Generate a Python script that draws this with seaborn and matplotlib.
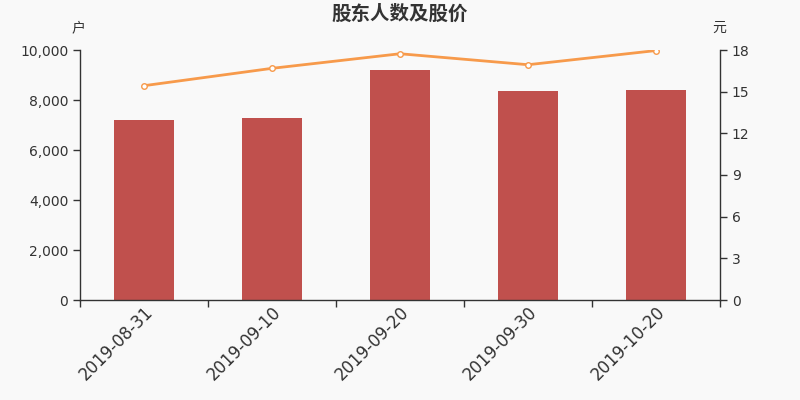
import matplotlib
matplotlib.use("Agg")
import matplotlib.pyplot as plt
import seaborn as sns
import pandas as pd
from matplotlib.ticker import FuncFormatter, FixedLocator

dates = ["2019-08-31", "2019-09-10", "2019-09-20", "2019-09-30", "2019-10-20"]
holders = [7200, 7280, 9200, 8360, 8390]
prices = [15.43, 16.68, 17.73, 16.94, 17.96]

df = pd.DataFrame({"date": dates, "holders": holders, "price": prices})

sns.set_theme(style="white")
plt.rcParams['font.family'] = ['DejaVu Sans']
bg = "#f9f9f9"
fig = plt.figure(figsize=(8, 4), dpi=100, facecolor=bg)
ax = fig.add_axes([0.1, 0.25, 0.8, 0.625])
ax.set_facecolor(bg)

sns.barplot(data=df, x="date", y="holders", color="#c0504d", saturation=1,
            width=0.47, linewidth=0, ax=ax)
ax.set_ylim(0, 10000)
ax.set_xlim(-0.5, 4.5)
ax.yaxis.set_major_locator(FixedLocator([0, 2000, 4000, 6000, 8000, 10000]))
ax.yaxis.set_major_formatter(FuncFormatter(lambda v, p: f"{int(v):,}"))
ax.set_xlabel("")
ax.set_ylabel("")

ax2 = ax.twinx()
sns.lineplot(data=df, x="date", y="price", color="#f79a4b", linewidth=2,
             marker="o", markersize=4, markerfacecolor="white",
             markeredgecolor="#f79a4b", markeredgewidth=1, ax=ax2)
ax2.set_ylim(0, 18)
ax2.set_xlim(-0.5, 4.5)
ax2.yaxis.set_major_locator(FixedLocator([0, 3, 6, 9, 12, 15, 18]))
ax2.set_xlabel("")
ax2.set_ylabel("")

dark = "#333333"
for a in (ax, ax2):
    a.spines["top"].set_visible(False)
    for s in ["left", "right", "bottom"]:
        a.spines[s].set_color(dark)
        a.spines[s].set_linewidth(1)
ax.spines["right"].set_visible(False)
ax2.spines["left"].set_visible(False)
ax2.spines["bottom"].set_visible(False)

ax.tick_params(axis="y", direction="out", length=5, color=dark, labelcolor=dark,
               labelsize=10, left=True, width=1)
ax2.tick_params(axis="y", direction="out", length=5, color=dark, labelcolor=dark,
                labelsize=10, right=True, width=1)
ax.set_xticks(range(len(dates)))
ax.set_xticklabels(dates, rotation=45, ha="right", rotation_mode="anchor",
                   fontsize=12, color=dark)
ax.tick_params(axis="x", which="major", length=0, pad=2)
ax.set_xticks([i - 0.5 for i in range(len(dates) + 1)], minor=True)
ax.tick_params(axis="x", which="minor", direction="out", length=5, color=dark,
               bottom=True, width=1)

cjk = ['Noto Sans CJK SC', 'DejaVu Sans']
fig.text(0.5, 0.965, "股东人数及股价", ha="center", va="center", fontsize=14,
         fontweight="bold", color=dark, family=cjk)
fig.text(0.098, 0.93, "户", ha="center", va="center", fontsize=10, color=dark, family=cjk)
fig.text(0.899, 0.93, "元", ha="center", va="center", fontsize=10, color=dark, family=cjk)

fig.savefig("out.png", dpi=100, facecolor=bg)
